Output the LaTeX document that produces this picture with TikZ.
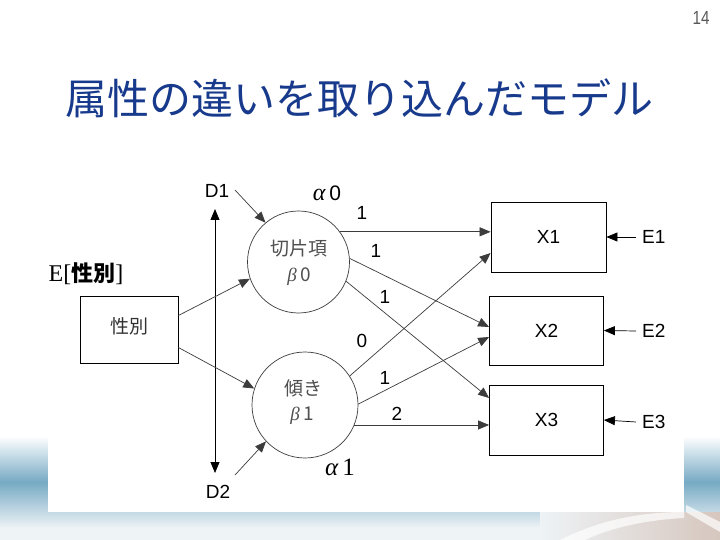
\documentclass[tikz,border=0pt]{standalone}
\usepackage{fontspec}
\setmainfont{Noto Sans CJK JP}
\newfontfamily\libser{Liberation Serif}
\newfontfamily\libsans{Liberation Sans}
\usetikzlibrary{arrows.meta}
\definecolor{titleblue}{RGB}{24,58,140}
\definecolor{bandblue}{RGB}{118,170,196}
\definecolor{bandlow}{RGB}{238,243,246}
\definecolor{beige}{RGB}{214,198,190}
\definecolor{linegray}{RGB}{60,60,60}
\definecolor{txtgray}{RGB}{80,80,80}
\begin{document}
\begin{tikzpicture}[x=1pt,y=-1pt,
  lbl/.style={font=\libsans\fontsize{19}{19}\selectfont, inner sep=0pt},
  num/.style={font=\libsans\fontsize{19}{19}\selectfont, inner sep=0pt},
  obs/.style={draw=black, line width=0.8pt, inner sep=0pt, font=\libsans\fontsize{19}{19}\selectfont},
  lat/.style={circle, draw=linegray, line width=0.7pt, inner sep=0pt},
  arr/.style={draw=linegray, line width=0.7pt, -{Triangle[length=11pt,width=9pt]}},
  darr/.style={draw=black, line width=0.8pt, {Triangle[length=11pt,width=9pt]}-{Triangle[length=11pt,width=9pt]}},
  jtxt/.style={text=txtgray, font=\fontsize{19}{19}\selectfont, inner sep=0pt},
]
\useasboundingbox (0,0) rectangle (720,540);
% background band
\shade[top color=white, bottom color=bandlow, middle color=bandblue] (0pt,-436pt) rectangle (720pt,-528pt);
\fill[bandlow] (0pt,-527pt) rectangle (720pt,-540pt);
\shade[left color=bandlow, right color=beige] (540pt,-512pt) rectangle (720pt,-540pt);
\fill[white, opacity=0.7] (560pt,-540pt) .. controls (600pt,-520pt) and (640pt,-512pt) .. (684pt,-512pt) -- (684pt,-518pt) .. controls (645pt,-520pt) and (610pt,-528pt) .. (585pt,-540pt) -- cycle;
\fill[white, opacity=0.7] (686pt,-505pt) -- (720pt,-522pt) -- (720pt,-532pt) -- (686pt,-512pt) -- cycle;
\fill[white] (48,165) rectangle (684,512);

% title and page number
\node[font=\fontsize{42}{42}\selectfont, text=titleblue, inner sep=0pt] (title) at (359,98) {属性の違いを取り込んだモデル};
\node[font=\libsans\fontsize{19}{19}\selectfont, text=black!65, inner sep=0pt, xscale=0.8] (page) at (701,18) {14};

% observed boxes
\node[obs, minimum width=98pt, minimum height=67pt] (sex) at (129,329.5) {};
\node[jtxt, text=black!80] (sexl) at (129,326) {性別};
\node[obs, minimum width=115pt, minimum height=70pt] (x1) at (548.5,237) {X1};
\node[obs, minimum width=114pt, minimum height=69pt] (x2) at (546.5,330.5) {X2};
\node[obs, minimum width=114pt, minimum height=70pt] (x3) at (546.5,420) {X3};

% latent circles
\node[lat, minimum size=102pt] (c1) at (298.5,262) {};
\node[lat, minimum size=106pt] (c2) at (305,405) {};
\node[jtxt] (c1a) at (299,248) {切片項};
\node[jtxt] (c1b) at (299,277) {{\libser\itshape β}\,0};
\node[jtxt] (c2a) at (303,388) {傾き};
\node[jtxt] (c2b) at (302,416) {{\libser\itshape β}\,1};

% labels
\node[font=\fontsize{22}{22}\selectfont, inner sep=0pt] (esex) at (86,274) {{\libser\fontsize{24}{24}\selectfont E[}\textbf{性別}{\libser\fontsize{24}{24}\selectfont ]}};
\node[lbl] (d1) at (217,191) {D1};
\node[lbl] (d2) at (218,492) {D2};
\node[font=\fontsize{24}{24}\selectfont, inner sep=0pt] (a0) at (327,193) {{\libser\itshape α}\,{\libsans\fontsize{21}{21}\selectfont 0}};
\node[font=\fontsize{25}{25}\selectfont, inner sep=0pt] (a1) at (340,467) {{\libser\itshape α}\,{\libser 1}};
\node[lbl, anchor=west] (e1) at (642,237) {E1};
\node[lbl, anchor=west] (e2) at (642,331) {E2};
\node[lbl, anchor=west] (e3) at (642,422) {E3};

\node[num] (w1) at (362,213) {1};
\node[num] (w2) at (376,251) {1};
\node[num] (w3) at (385,297) {1};
\node[num] (w4) at (362,341) {0};
\node[num] (w5) at (385,378) {1};
\node[num] (w6) at (397,414) {2};

% connectors
\coordinate (vt) at (215,209);
\coordinate (vb) at (215,473);
\draw[darr] (vt) -- (vb);
\coordinate (d1s) at (235,190);
\coordinate (d2s) at (235,475);
\draw[arr] (d1s) -- (c1.130);
\draw[arr] (d2s) -- (c2.223);

\draw[arr] ([yshift=14pt]sex.east) -- (c1.199);
\draw[arr] ([yshift=-18pt]sex.east) -- (c2.162);

\draw[arr] (c1.36) -- (c1.36 -| x1.west);
\draw[arr] (c1.4) -- ([yshift=3.5pt]x2.west);
\draw[arr] (c1.-22) -- ([yshift=22pt]x3.west);

\draw[arr] (c2.33) -- ([yshift=-16pt]x1.west);
\draw[arr] (c2.1) -- ([yshift=-6.5pt]x2.west);
\draw[arr] (c2.-22) -- (c2.-22 -| x3.west);

\draw[arr, draw=black] ([xshift=-6pt]e1.west) -- (x1.east);
\draw[arr, draw=black] ([xshift=-6pt]e2.west) -- (x2.east);
\draw[arr, draw=black] ([xshift=-6pt]e3.west) -- (x3.east);
\end{tikzpicture}
\end{document}
